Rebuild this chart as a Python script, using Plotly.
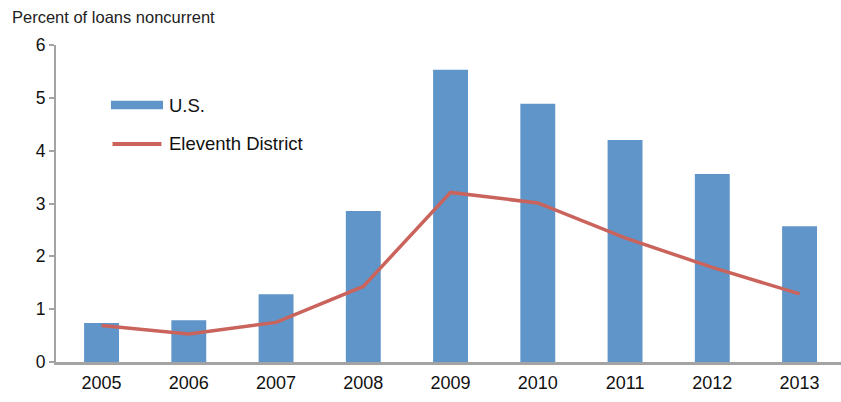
import plotly.graph_objects as go

years = ["2005", "2006", "2007", "2008", "2009", "2010", "2011", "2012", "2013"]
us_values = [0.74, 0.79, 1.28, 2.86, 5.53, 4.89, 4.20, 3.56, 2.57]
eleventh_values = [0.69, 0.53, 0.75, 1.43, 3.21, 3.01, 2.35, 1.79, 1.29]
y_ticks = [0, 1, 2, 3, 4, 5, 6]
series_names = ["U.S.", "Eleventh District"]

BAR_COLOR = "#5F95C8"
LINE_COLOR = "#CB635D"
AXIS_COLOR = "#A3A3A3"
FONT = "Liberation Sans, Arial, sans-serif"

fig = go.Figure()
fig.add_trace(go.Bar(x=years, y=us_values, name=series_names[0],
                     marker=dict(color=BAR_COLOR, line=dict(width=0)),
                     showlegend=False))
fig.add_trace(go.Scatter(x=years, y=eleventh_values, name=series_names[1], mode="lines",
                         line=dict(color=LINE_COLOR, width=3.5),
                         showlegend=False))

# Manual legend (wide swatches as in reference)
fig.add_shape(type="rect", xref="paper", yref="paper",
              x0=0.070, x1=0.1363, y0=0.8107 - 0.0135, y1=0.8107 + 0.0135,
              fillcolor=BAR_COLOR, line=dict(width=0))
fig.add_shape(type="line", xref="paper", yref="paper",
              x0=0.072, x1=0.1343, y0=0.6877, y1=0.6877,
              line=dict(color=LINE_COLOR, width=4))
fig.add_annotation(text=series_names[0], xref="paper", yref="paper", x=0.141, y=0.8107,
                   xanchor="left", yanchor="middle", showarrow=False,
                   font=dict(family=FONT, size=18.5, color="#111"))
fig.add_annotation(text=series_names[1], xref="paper", yref="paper", x=0.141, y=0.6877,
                   xanchor="left", yanchor="middle", showarrow=False,
                   font=dict(family=FONT, size=18.5, color="#111"))

fig.update_layout(
    width=841, height=402,
    margin=dict(l=56, r=0, t=45, b=40),
    paper_bgcolor="white", plot_bgcolor="white",
    bargap=0.6,
    font=dict(family=FONT, size=17, color="#111"),
    title=dict(text="Percent of loans noncurrent", xref="container", yref="container",
               x=12 / 841, y=1 - 17 / 402, xanchor="left", yanchor="middle",
               font=dict(family="Liberation Sans Narrow, Arial Narrow, Liberation Sans, sans-serif",
                         size=16.5, color="#222")),
    xaxis=dict(showline=True, linecolor=AXIS_COLOR, linewidth=2.5, ticks="",
               range=[-0.522, 8.475],
               showgrid=False, zeroline=False, tickfont=dict(size=18), ticklabelstandoff=3),
    yaxis=dict(range=[0, 6], tickvals=y_ticks, showline=True, linecolor=AXIS_COLOR,
               linewidth=2, ticks="outside", ticklen=5, tickcolor=AXIS_COLOR, tickwidth=2,
               showgrid=False, zeroline=False, tickfont=dict(size=17.5)),
)

fig.write_html("out.html", config={"displayModeBar": False},
               post_script="document.body.style.margin='0';document.body.style.overflow='hidden';")
